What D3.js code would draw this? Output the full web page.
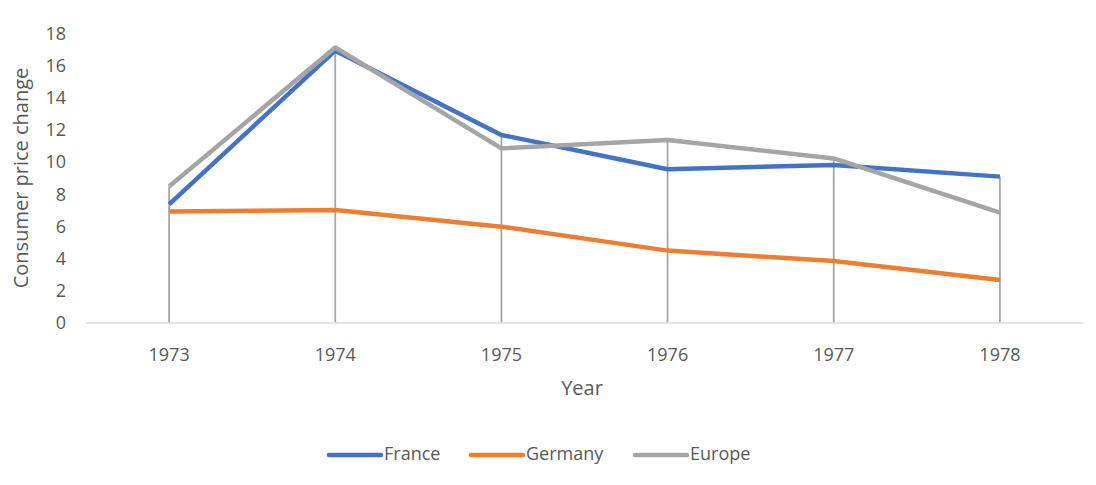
<!DOCTYPE html>
<html><head><meta charset="utf-8">
<script src="https://cdn.jsdelivr.net/npm/d3@7"></script>
<style>body{margin:0;background:#fff}svg{display:block}text{font-family:"Open Sans",Lato,sans-serif;fill:#595959}</style>
</head><body><svg id="c" width="1096" height="485"></svg>
<script>
const years = ["1973","1974","1975","1976","1977","1978"];
const france = [7.35, 16.9, 11.66, 9.53, 9.8, 9.07];
const germany = [6.9, 7.0, 5.96, 4.47, 3.82, 2.64];
const europe = [8.45, 17.1, 10.83, 11.35, 10.2, 6.83];
const yTicks = [0,2,4,6,8,10,12,14,16,18];
const seriesNames = ["France","Germany","Europe"];
const colors = ["#4472C4","#ED7D31","#A5A5A5"];

const series = [france, germany, europe];
const svg = d3.select("#c");
const x = d3.scaleBand().domain(years).range([86, 1083]);
const y = d3.scaleLinear().domain([0,18]).range([322.5, 33]);
const cx = d => x(d) + x.bandwidth()/2;

// drop lines
svg.append("g").selectAll("line").data(years).join("line")
  .attr("x1", d=>cx(d)).attr("x2", d=>cx(d))
  .attr("y1", y(0)).attr("y2", (d,i)=>y(d3.max(series, s=>s[i])))
  .attr("stroke","#A5A5A5").attr("stroke-width",1.75);

// x axis
const xa = svg.append("g").attr("transform","translate(0,322.5)").call(d3.axisBottom(x).tickSize(0).tickPadding(0));
xa.select(".domain").attr("stroke","#d9d9d9").attr("stroke-width",1.5);
xa.selectAll("text").attr("font-size",18).style("font-family","'Open Sans'").attr("y",32).attr("dy","0.35em");

// y axis
const ya = svg.append("g").attr("transform","translate(66,0)").call(d3.axisLeft(y).tickValues(yTicks).tickSize(0).tickPadding(0));
ya.select(".domain").remove();
ya.selectAll("text").attr("font-size",18).style("font-family","'Open Sans'").attr("dy","0.35em");

// lines
const line = d3.line().x((d,i)=>cx(years[i])).y(d=>y(d));
svg.append("g").selectAll("path").data(series).join("path")
  .attr("d", line).attr("fill","none")
  .attr("stroke",(d,i)=>colors[i]).attr("stroke-width",4.5).attr("stroke-linejoin","round");

// titles
svg.append("text").attr("x",582).attr("y",390).attr("text-anchor","middle").attr("dominant-baseline","middle").attr("font-size",20).text("Year");
svg.append("text").attr("transform","translate(23,178) rotate(-90)").attr("text-anchor","middle").attr("dominant-baseline","middle").attr("font-size",20).text("Consumer price change");

// legend
const legX = [329, 471, 635];
const lg = svg.append("g").selectAll("g").data(seriesNames).join("g").attr("transform",(d,i)=>`translate(${legX[i]},455)`);
lg.append("line").attr("x1",0).attr("x2",52).attr("y1",0).attr("y2",0).attr("stroke",(d,i)=>colors[i]).attr("stroke-width",4.5).attr("stroke-linecap","round");
lg.append("text").attr("x",55).attr("y",0).attr("dominant-baseline","middle").attr("font-size",18).text(d=>d);
</script></body></html>
